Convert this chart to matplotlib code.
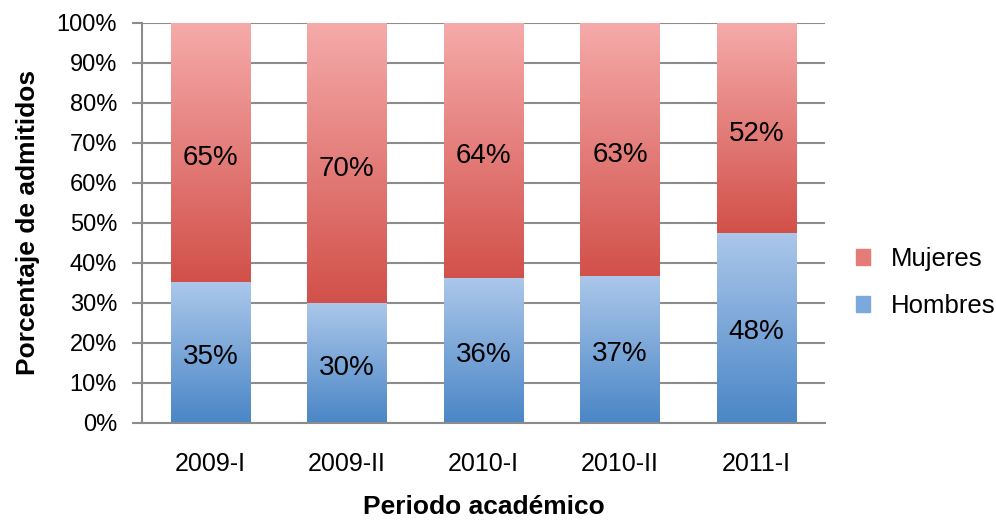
import numpy as np
import matplotlib.pyplot as plt
from matplotlib.colors import LinearSegmentedColormap
from matplotlib.patches import Patch

periodos = ['2009-I', '2009-II', '2010-I', '2010-II', '2011-I']
hombres = [35.2, 29.8, 36.2, 36.7, 47.5]
mujeres = [100 - h for h in hombres]

plt.rcParams['font.family'] = ['Liberation Sans', 'DejaVu Sans']

fig = plt.figure(figsize=(9.96, 5.27), dpi=100)
ax = fig.add_axes([0.1426, 0.198, 0.6855, 0.759])

x = np.arange(len(periodos))
ancho = 0.58
b_h = ax.bar(x, hombres, ancho, color='none', zorder=3)
b_m = ax.bar(x, mujeres, ancho, bottom=hombres, color='none', zorder=3)

# degradado vertical en cada segmento (claro arriba, oscuro abajo)
cmap_h = LinearSegmentedColormap.from_list('h', ['#4a86c6', '#abc7ea'])
cmap_m = LinearSegmentedColormap.from_list('m', ['#d2504a', '#f5abaa'])
grad = np.linspace(0, 1, 256).reshape(-1, 1)
for barras, cmap in ((b_h, cmap_h), (b_m, cmap_m)):
    for r in barras:
        x0, y0 = r.get_x(), r.get_y()
        ax.imshow(grad, cmap=cmap, origin='lower', aspect='auto',
                  extent=[x0, x0 + r.get_width(), y0, y0 + r.get_height()],
                  zorder=2, interpolation='bicubic')

for i in range(len(periodos)):
    ax.text(x[i], hombres[i] / 2 - 1.2, f"{hombres[i]:.0f}%", ha='center', va='center',
            fontsize=20, zorder=4)
    ax.text(x[i], hombres[i] + mujeres[i] / 2 - 1.5, f"{mujeres[i]:.0f}%", ha='center',
            va='center', fontsize=20, zorder=4)

ax.set_xlim(-0.5, len(periodos) - 0.5)
ax.set_ylim(0, 100)
ax.set_yticks(np.arange(0, 101, 10))
ax.set_yticklabels([f"{v}%" for v in range(0, 101, 10)], fontsize=17)
ax.set_xticks(x)
ax.set_xticklabels(periodos, fontsize=18)
ax.tick_params(axis='x', length=0, pad=21)
ax.tick_params(axis='y', length=7, width=1.5, color='#8c8c8c', pad=11)
ax.yaxis.grid(True, color='#8c8c8c', linewidth=1.5, zorder=1)
ax.set_axisbelow(True)
for s in ('top', 'right'):
    ax.spines[s].set_visible(False)
for s in ('left', 'bottom'):
    ax.spines[s].set_color('#8c8c8c')
    ax.spines[s].set_linewidth(1.5)

ax.set_ylabel('Porcentaje de admitidos', fontsize=19, fontweight='bold', labelpad=12)
ax.set_xlabel('Periodo académico', fontsize=19, fontweight='bold', labelpad=14)

handles = [Patch(color='#e57c78', label='Mujeres'), Patch(color='#7da8dc', label='Hombres')]
fig.legend(handles=handles, loc='center left', bbox_to_anchor=(0.836, 0.464),
           frameon=False, fontsize=18.5, handlelength=0.55, handleheight=0.55,
           handletextpad=0.8, labelspacing=0.9)

fig.savefig('out.png', dpi=100)
